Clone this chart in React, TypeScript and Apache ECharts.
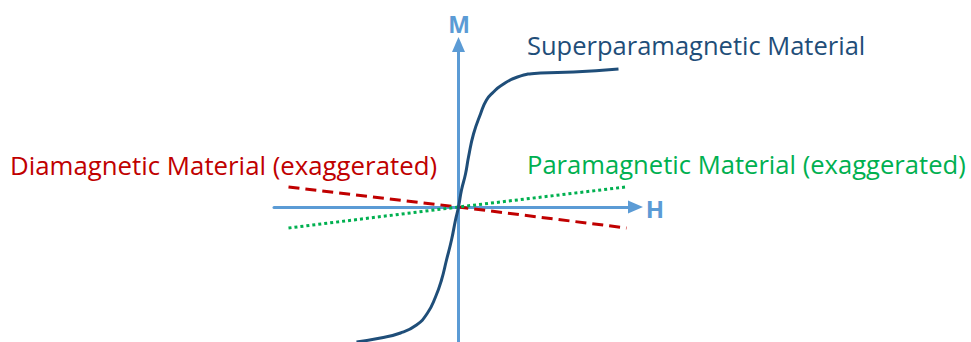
import React, { useEffect, useRef } from "react";
import * as echarts from "echarts";

// Field H (x) and magnetisation M (y), in arbitrary units
const superH = [-102, -78, -58, -42, -31, -23, -17, -12, -7, -3, 0, 3, 7, 10, 15, 22, 28, 35, 42, 59, 82, 115, 160];
const superM = [-135, -131, -126, -118, -106, -90, -73, -53, -33, -13, 0, 17, 33, 50, 73, 93, 107, 115, 121, 130, 134, 135, 138];
const diaH = [-170, 0, 168];
const diaM = [20, 0, -21];
const paraH = [-170, 0, 167];
const paraM = [-21, 0, 20];

const seriesNames = [
  "Superparamagnetic Material",
  "Diamagnetic Material (exaggerated)",
  "Paramagnetic Material (exaggerated)",
];
const axisNames = ["H", "M"];

const AXIS = "#5B9BD5";
const BLUE = "#1F4E79";
const RED = "#C00000";
const GREEN = "#00B050";
const FONT = "'Open Sans', sans-serif";

const zip = (a: number[], b: number[]) => a.map((v, i) => [v, b[i]]);

export default function App() {
  const ref = useRef<HTMLDivElement>(null);
  useEffect(() => {
    document.body.style.margin = "0";
    const chart = echarts.init(ref.current!, undefined, { renderer: "svg" });
    const ox = 458.5;
    const oy = 207;
    const gl = 274;
    const gr = 635.5;
    const gt = 44.5;
    const gb = 342;
    chart.setOption({
      animation: false,
      backgroundColor: "#ffffff",
      grid: { left: gl, right: 971 - gr, top: gt, bottom: 342 - gb },
      xAxis: {
        type: "value",
        min: gl - ox,
        max: gr - ox,
        splitLine: { show: false },
        axisTick: { show: false },
        axisLabel: { show: false },
        axisLine: {
          onZero: true,
          symbol: ["none", "triangle"],
          symbolSize: [13, 15],
          lineStyle: { color: AXIS, width: 3 },
        },
      },
      yAxis: {
        type: "value",
        min: oy - gb,
        max: oy - gt,
        splitLine: { show: false },
        axisTick: { show: false },
        axisLabel: { show: false },
        axisLine: {
          onZero: true,
          symbol: ["none", "triangle"],
          symbolSize: [13, 15],
          lineStyle: { color: AXIS, width: 3 },
        },
      },
      series: [
        {
          name: seriesNames[1],
          type: "line",
          data: zip(diaH, diaM),
          showSymbol: false,
          clip: false,
          z: 3,
          lineStyle: { color: RED, width: 3, type: [11, 6], cap: "butt" },
        },
        {
          name: seriesNames[2],
          type: "line",
          data: zip(paraH, paraM),
          showSymbol: false,
          clip: false,
          z: 4,
          lineStyle: { color: GREEN, width: 3, type: [3, 3], cap: "butt" },
        },
        {
          name: seriesNames[0],
          type: "line",
          data: zip(superH, superM),
          showSymbol: false,
          smooth: 0.5,
          clip: false,
          z: 5,
          lineStyle: { color: BLUE, width: 3 },
        },
      ],
      graphic: [
        {
          type: "text",
          x: 459,
          y: 24,
          style: {
            text: axisNames[1],
            fill: AXIS,
            font: `bold 23px ${FONT}`,
            align: "center",
            verticalAlign: "middle",
          },
        },
        {
          type: "text",
          x: 655,
          y: 208,
          style: {
            text: axisNames[0],
            fill: AXIS,
            font: `bold 24px ${FONT}`,
            align: "center",
            verticalAlign: "middle",
          },
        },
        {
          type: "text",
          x: 527,
          y: 45,
          style: {
            text: seriesNames[0],
            fill: BLUE,
            font: `25.5px ${FONT}`,
            align: "left",
            verticalAlign: "middle",
          },
        },
        {
          type: "text",
          x: 10,
          y: 165,
          style: {
            text: seriesNames[1],
            fill: RED,
            font: `25.8px ${FONT}`,
            align: "left",
            verticalAlign: "middle",
          },
        },
        {
          type: "text",
          x: 527,
          y: 164,
          style: {
            text: seriesNames[2],
            fill: GREEN,
            font: `25.6px ${FONT}`,
            align: "left",
            verticalAlign: "middle",
          },
        },
      ],
    });
    return () => chart.dispose();
  }, []);
  return (
    <div
      ref={ref}
      style={{ position: "fixed", left: 0, top: 0, width: 971, height: 342 }}
    />
  );
}
